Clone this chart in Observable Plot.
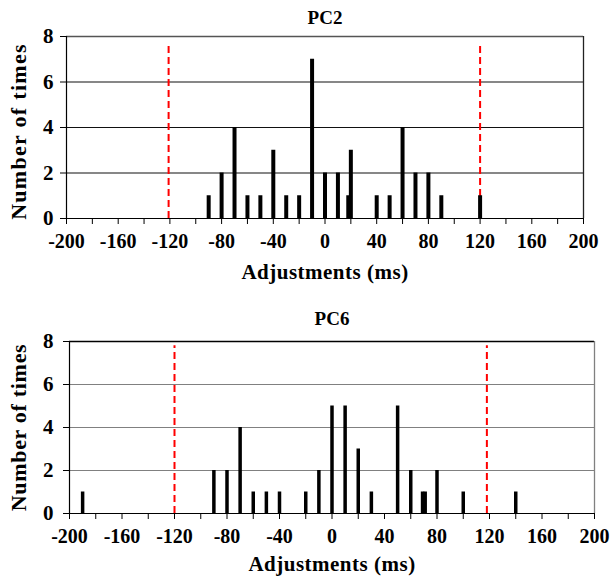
<!DOCTYPE html>
<html>
<head>
<meta charset="utf-8">
<script src="https://cdn.jsdelivr.net/npm/d3@7"></script>
<script src="https://cdn.jsdelivr.net/npm/@observablehq/plot@0.6"></script>
<style>
  html, body { margin: 0; padding: 0; background: #fff; }
  #charts { width: 614px; }
  svg { display: block; }
  svg text { font-family: "Liberation Serif", "Times New Roman", serif !important; font-weight: bold !important; }
</style>
</head>
<body>
<div id="charts"></div>
<script>
// ---- data ----
const xTicks = d3.range(-200, 201, 20);
const yTicks = [0, 2, 4, 6, 8];

const pc2Adjust = [-90, -80, -70, -60, -50, -40, -30, -20, -10, 0, 10, 18, 20, 40, 50, 60, 70, 80, 90, 120];
const pc2Count  = [1, 2, 4, 1, 1, 3, 1, 1, 7, 2, 2, 1, 3, 1, 1, 4, 2, 2, 1, 1];
const pc2Limits = [-121, 120];

const pc6Adjust = [-190, -90, -80, -70, -60, -50, -40, -20, -10, 0, 10, 20, 30, 50, 60, 69, 71, 80, 100, 140];
const pc6Count  = [1, 2, 2, 4, 1, 1, 1, 1, 2, 5, 5, 3, 1, 5, 2, 1, 1, 2, 1, 1];
const pc6Limits = [-120, 118];

const xLabel = "Adjustments (ms)";
const yLabel = "Number of times";

const FONT = "'Liberation Serif', 'Times New Roman', serif";

function chart(cfg) {
  const data = cfg.adjust.map((a, i) => ({a, n: cfg.count[i]}));
  const svg = Plot.plot({
    width: 614,
    height: cfg.height,
    marginTop: cfg.mt, marginBottom: cfg.mb, marginLeft: cfg.ml, marginRight: cfg.mr,
    style: {fontFamily: FONT, fontWeight: "bold", fontSize: "20px", color: "#000", background: "#fff"},
    x: {domain: [-200, 200]},
    y: {domain: [0, 8]},
    marks: [
      Plot.ruleY([2, 4, 6], {stroke: cfg.grid, strokeWidth: 1.2}),
      Plot.ruleY([8], {stroke: cfg.topColor, strokeWidth: 1.3}),
      Plot.ruleX([200], {stroke: cfg.rightColor, strokeWidth: 1.3}),
      Plot.ruleX(cfg.limits, {y1: 0, y2: cfg.limitTop, stroke: "#ff0000", strokeWidth: 2, strokeDasharray: "7,4"}),
      Plot.ruleX(data, {x: "a", y1: 0, y2: "n", stroke: "#000", strokeWidth: cfg.barW}),
      Plot.ruleY([0], {stroke: "#000", strokeWidth: 1.2}),
      Plot.ruleX([-200], {stroke: "#000", strokeWidth: 1.2}),
      Plot.axisX({ticks: xTicks, tickFormat: d => (d % 40 === 0 ? String(d) : ""), tickSize: 6, tickPadding: 9, label: null,
                  fontSize: 20, fontFamily: FONT, fontWeight: "bold", fill: "#000", stroke: "#000"}),
      Plot.axisY({ticks: yTicks, tickFormat: d => String(d), tickSize: 6, tickPadding: cfg.yPad, label: null,
                  fontSize: 21, fontFamily: FONT, fontWeight: "bold", fill: "#000", stroke: "#000"}),
      Plot.text([cfg.title], {frameAnchor: "top", lineAnchor: "bottom", dy: -cfg.titleGap, fontSize: 19, fontFamily: FONT, fontWeight: "bold", fill: "#000"}),
      Plot.text([xLabel], {frameAnchor: "bottom", lineAnchor: "bottom", dy: cfg.xlabGap, fontSize: 21, fontFamily: FONT, fontWeight: "bold", fill: "#000"}),
      Plot.text([yLabel], {frameAnchor: "left", rotate: -90, textAnchor: "middle", lineAnchor: "middle", dx: cfg.ylabDx, dy: cfg.ylabDy,
                           fontSize: 22, fontFamily: FONT, fontWeight: "bold", fill: "#000"})
    ]
  });
  // slight letter-spacing to match the wider lettering of the original
  d3.select(svg).selectAll("text").filter(function () { return this.textContent === yLabel; }).style("letter-spacing", cfg.ySpacing);
  d3.select(svg).selectAll("text").filter(function () { return this.textContent === xLabel; }).style("letter-spacing", "0.5px");
  return svg;
}

const root = document.getElementById("charts");
root.appendChild(chart({
  title: "PC2", adjust: pc2Adjust, count: pc2Count, limits: pc2Limits, limitTop: 7.6,
  height: 295, mt: 36, mb: 77, ml: 66, mr: 31,
  grid: "#111", topColor: "#555", rightColor: "#222", barW: 4, yPad: 7,
  titleGap: 13, xlabGap: 60, ylabDx: -48, ylabDy: 4, ySpacing: "1.3px"
}));
root.appendChild(chart({
  title: "PC6", adjust: pc6Adjust, count: pc6Count, limits: pc6Limits, limitTop: 7.8,
  height: 281, mt: 46, mb: 63, ml: 69, mr: 20,
  grid: "#808080", topColor: "#000", rightColor: "#808080", barW: 3.5, yPad: 10,
  titleGap: 17, xlabGap: 57, ylabDx: -51, ylabDy: 0, ySpacing: "0.7px"
}));
</script>
</body>
</html>
